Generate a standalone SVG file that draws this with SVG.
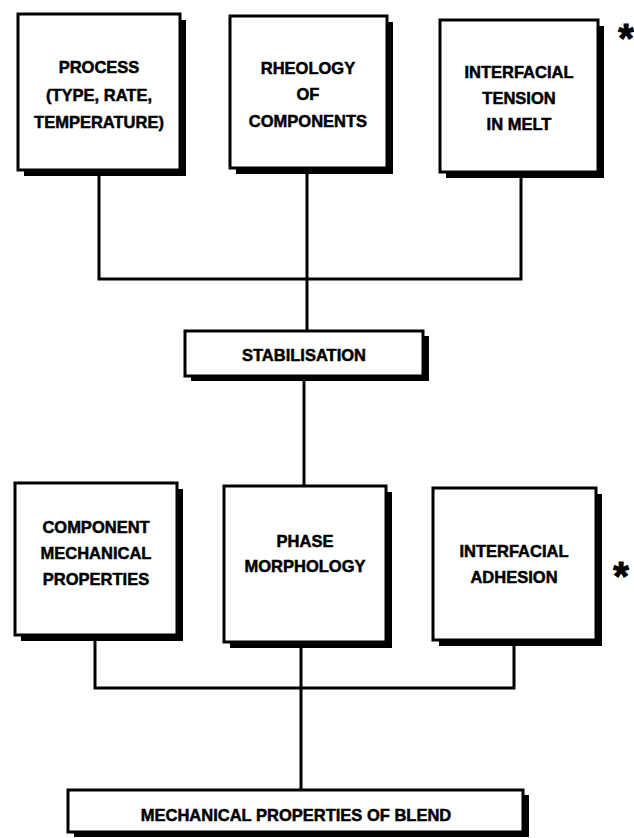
<svg xmlns="http://www.w3.org/2000/svg" width="634" height="838" viewBox="0 0 634 838">
<style>
.box{fill:#fff;stroke:#000;stroke-width:3}
.sh{fill:#000}
.t{font-family:"Liberation Sans",Arial,sans-serif;font-weight:bold;font-size:16.5px;text-anchor:middle;fill:#000;stroke:#000;stroke-width:0.5}
.star{font-family:"Liberation Sans",Arial,sans-serif;font-weight:bold;font-size:40px;text-anchor:middle;fill:#000;stroke:#000;stroke-width:1}
.c{fill:none;stroke:#000;stroke-width:3}
</style>
<rect width="634" height="838" fill="#fff"/>
<g id="connectors">
<path class="c" d="M99,172 V279 H521 V172"/>
<path class="c" d="M307,168 V331"/>
<path class="c" d="M304,376 V486"/>
<path class="c" d="M95,638 V688 H514 V640"/>
<path class="c" d="M301,644 V790"/>
</g>
<g id="process">
<rect class="sh" x="24" y="20" width="162" height="156"/>
<rect class="box" x="18" y="14" width="162" height="156"/>
<text class="t" x="99" y="73">PROCESS</text>
<text class="t" x="99" y="101">(TYPE, RATE,</text>
<text class="t" x="99" y="128">TEMPERATURE)</text>
</g>
<g id="rheology">
<rect class="sh" x="236" y="22" width="157" height="152"/>
<rect class="box" x="230" y="16" width="157" height="152"/>
<text class="t" x="308" y="74">RHEOLOGY</text>
<text class="t" x="308" y="100">OF</text>
<text class="t" x="308" y="127">COMPONENTS</text>
</g>
<g id="tension">
<rect class="sh" x="446" y="26" width="158" height="152"/>
<rect class="box" x="440" y="20" width="158" height="152"/>
<text class="t" x="519" y="78">INTERFACIAL</text>
<text class="t" x="519" y="104">TENSION</text>
<text class="t" x="519" y="130">IN MELT</text>
<text class="star" x="626" y="52">*</text>
</g>
<g id="stabilisation">
<rect class="sh" x="191" y="336" width="238" height="45"/>
<rect class="box" x="185" y="331" width="238" height="45"/>
<text class="t" x="304" y="361">STABILISATION</text>
</g>
<g id="component">
<rect class="sh" x="21" y="489" width="162" height="152"/>
<rect class="box" x="15" y="483" width="162" height="152"/>
<text class="t" x="96" y="533">COMPONENT</text>
<text class="t" x="96" y="559">MECHANICAL</text>
<text class="t" x="96" y="585">PROPERTIES</text>
</g>
<g id="phase">
<rect class="sh" x="230" y="492" width="162" height="156"/>
<rect class="box" x="224" y="486" width="162" height="156"/>
<text class="t" x="305" y="547">PHASE</text>
<text class="t" x="305" y="572">MORPHOLOGY</text>
</g>
<g id="adhesion">
<rect class="sh" x="439" y="494" width="163" height="152"/>
<rect class="box" x="433" y="488" width="163" height="152"/>
<text class="t" x="514" y="557">INTERFACIAL</text>
<text class="t" x="514" y="583">ADHESION</text>
<text class="star" x="621" y="590">*</text>
</g>
<g id="blend">
<rect class="sh" x="74" y="795" width="455" height="42"/>
<rect class="box" x="68" y="790" width="455" height="42"/>
<text class="t" x="296" y="821">MECHANICAL PROPERTIES OF BLEND</text>
</g>
</svg>
